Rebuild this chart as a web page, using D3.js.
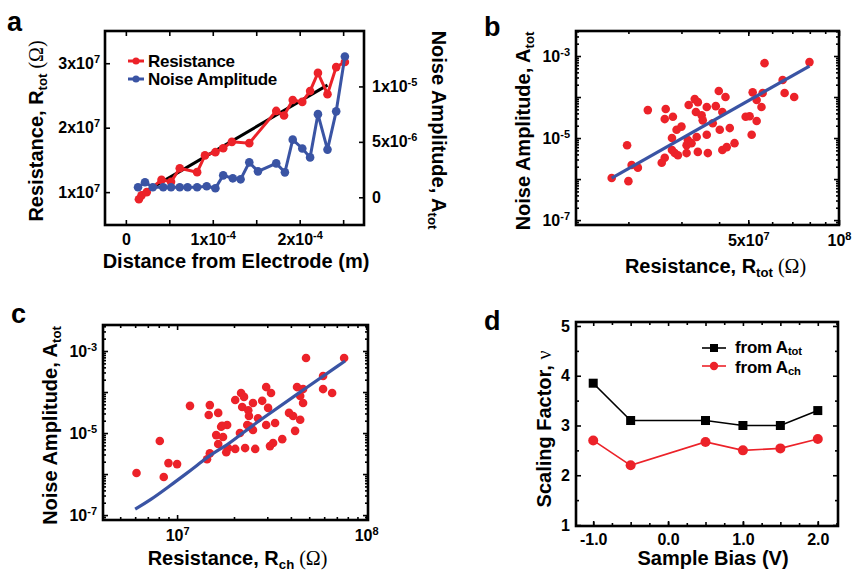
<!DOCTYPE html>
<html>
<head>
<meta charset="utf-8">
<script src="https://cdn.jsdelivr.net/npm/d3@7"></script>
<style>
body { margin: 0; background: #fff; }
text { font-family: "Liberation Sans", Arial, sans-serif; font-weight: bold; fill: #000; }
</style>
</head>
<body>
<svg id="fig" width="854" height="572"></svg>
<script>
// ---- panel a: resistance / noise vs distance ----
const distRes   = [1.5e-5, 1.8e-5, 2.4e-5, 4.1e-5, 5.2e-5, 6.2e-5, 8.2e-5, 9.1e-5, 1.03e-4, 1.12e-4, 1.22e-4, 1.42e-4, 1.73e-4, 1.82e-4, 1.92e-4, 2.03e-4, 2.12e-4, 2.21e-4, 2.32e-4, 2.42e-4, 2.52e-4];
const resTot    = [0.89e7, 0.95e7, 1.0e7, 1.19e7, 1.16e7, 1.37e7, 1.31e7, 1.57e7, 1.62e7, 1.68e7, 1.78e7, 1.76e7, 2.26e7, 2.19e7, 2.43e7, 2.40e7, 2.57e7, 2.85e7, 2.52e7, 2.94e7, 3.02e7];
const distNoise = [1.4e-5, 2.2e-5, 3.1e-5, 4.3e-5, 5.2e-5, 6.2e-5, 7.1e-5, 8.2e-5, 9.3e-5, 1.03e-4, 1.12e-4, 1.23e-4, 1.32e-4, 1.42e-4, 1.52e-4, 1.73e-4, 1.83e-4, 1.92e-4, 2.03e-4, 2.12e-4, 2.21e-4, 2.32e-4, 2.42e-4, 2.52e-4];
const noiseAmp  = [0.9e-6, 1.35e-6, 0.9e-6, 0.9e-6, 0.9e-6, 0.9e-6, 0.9e-6, 0.9e-6, 0.99e-6, 0.81e-6, 1.98e-6, 1.71e-6, 1.62e-6, 3.15e-6, 2.34e-6, 3.06e-6, 2.25e-6, 5.2e-6, 4.4e-6, 3.6e-6, 7.5e-6, 4.3e-6, 7.75e-6, 12.7e-6];
const fitDistA  = [1.5e-5, 2.32e-4];
const fitResA   = [0.95e7, 2.66e7];
const legendA   = ["Resistance", "Noise Amplitude"];

// ---- panel b: A_tot vs R_tot ----
const rTot = [1.76e7, 1.98e7, 2.05e7, 2.15e7, 2.0e7, 2.32e7, 2.58e7, 2.64e7, 2.66e7, 2.64e7, 2.81e7, 2.79e7, 2.79e7, 2.85e7, 2.92e7, 2.89e7, 3.0e7, 3.12e7, 3.12e7, 3.15e7, 3.17e7, 3.24e7, 3.32e7, 3.4e7, 3.35e7, 3.37e7, 3.4e7, 3.5e7, 3.53e7, 3.64e7, 3.64e7, 3.67e7, 3.81e7, 3.9e7, 3.99e7, 4.2e7, 4.02e7, 4.1e7, 4.1e7, 4.24e7, 4.34e7, 4.5e7, 4.9e7, 5.05e7, 5.33e7, 5.13e7, 5.17e7, 5.33e7, 5.53e7, 5.58e7, 5.66e7, 6.5e7, 6.6e7, 7.1e7, 7.98e7];
const aTotB = [1.06e-6, 6.7e-6, 2.2e-6, 1.9e-6, 8.9e-7, 4.8e-5, 2.5e-6, 3.3e-6, 5.1e-5, 2.9e-5, 3.3e-5, 1.0e-5, 5.1e-6, 4.3e-6, 3.8e-6, 1.6e-5, 1.9e-5, 4.3e-6, 6.7e-6, 8.9e-6, 6.4e-5, 7.5e-6, 8.9e-5, 7.5e-5, 4.3e-5, 1.06e-5, 4.6e-6, 3.6e-5, 2.7e-5, 5.7e-5, 1.2e-5, 4.3e-6, 2.3e-5, 6.0e-5, 1.4e-4, 1.0e-4, 1.6e-5, 4.3e-5, 5.1e-6, 6.0e-6, 1.75e-5, 7.5e-6, 3.3e-5, 3.4e-5, 2.6e-5, 1.2e-5, 1.3e-4, 8.5e-5, 5.7e-5, 1.25e-4, 6.7e-4, 2.6e-4, 1.25e-4, 1.0e-4, 7.1e-4];
const fitRB = [1.76e7, 7.98e7];
const fitAB = [1.05e-6, 5.7e-4];

// ---- panel c: A_tot vs R_ch ----
const rCh = [6.1e6, 8.1e6, 9.0e6, 1.0e7, 8.5e6, 1.44e7, 1.49e7, 1.61e7, 1.75e7, 1.65e7, 1.71e7, 1.84e7, 1.86e7, 1.82e7, 2.03e7, 2.29e7, 2.59e7, 2.15e7, 2.35e7, 2.52e7, 2.96e7, 3.3e7, 3.1e7, 3.22e7, 3.6e7, 4.21e7, 4.48e7, 1.17e7, 1.49e7, 1.47e7, 1.65e7, 4.81e7, 7.65e7, 5.92e7, 5.92e7, 6.61e7, 4.31e7, 4.64e7, 4.48e7, 4.64e7, 2.96e7, 3.14e7, 2.18e7, 2.26e7, 2.03e7, 2.82e7, 2.52e7, 2.21e7, 2.38e7, 2.4e7, 3.03e7, 3.91e7, 4.11e7, 1.73e7, 2.68e7, 2.43e7];
const aTotC = [1.06e-6, 6.4e-6, 1.85e-6, 1.75e-6, 8.5e-7, 2.3e-6, 3.2e-6, 8.9e-6, 8.0e-6, 5.4e-6, 1.43e-5, 1.57e-5, 4.3e-6, 3.4e-6, 4.1e-6, 4.3e-6, 4.1e-6, 1.0e-5, 1.57e-5, 1.19e-5, 1.57e-5, 1.75e-5, 4.8e-6, 5.7e-6, 7.1e-6, 1.13e-5, 2.1e-5, 4.6e-5, 4.8e-5, 2.75e-5, 3.1e-5, 6.75e-4, 6.75e-4, 2.45e-4, 1.18e-4, 9.5e-5, 1.32e-4, 1.18e-4, 8.0e-5, 5.4e-5, 1.32e-4, 9.5e-5, 9.5e-5, 7.6e-5, 6.4e-5, 6.1e-5, 5.4e-5, 4.3e-5, 3.6e-5, 2.6e-5, 4.1e-5, 3.1e-5, 2.6e-5, 1.5e-5, 2.3e-5, 1.43e-5];
const fitRC = [6.0e6, 7.2e6, 8.85e6, 1.13e7, 1.32e7, 1.55e7, 1.84e7, 2.15e7, 2.65e7, 4.48e7, 7.74e7];
const fitAC = [1.4e-7, 2.3e-7, 4.6e-7, 1.06e-6, 1.85e-6, 3.25e-6, 5.1e-6, 8.9e-6, 1.85e-5, 1.0e-4, 5.7e-4];

// ---- panel d: scaling factor vs bias ----
const bias    = [-1.0, -0.5, 0.5, 1.0, 1.5, 2.0];
const nuTot   = [3.85, 3.1, 3.1, 3.0, 3.0, 3.3];
const nuCh    = [2.7, 2.2, 2.67, 2.5, 2.54, 2.73];

const RED = "#ec2229", BLUE = "#3a54a4";
const svg = d3.select("#fig");
svg.append("rect").attr("width", 854).attr("height", 572).attr("fill", "#fff");

// text with sub/superscripts; parts = [[string, kind]]
function richText(parent, parts, size, subShift) {
    var t = parent.append("text").attr("font-size", size);
    var shift = 0;
    parts.forEach(function(p) {
        var ts = t.append("tspan").text(p[0]);
        var target = 0;
        if (p[1] == "sub") { ts.attr("font-size", size * 0.66); target = size * (subShift || 0.2); }
        if (p[1] == "sup") { ts.attr("font-size", size * 0.68); target = -size * 0.42; }
        if (p[1] == "serif") { ts.attr("font-family", "'Liberation Serif', serif").attr("font-weight", "normal"); }
        if (target != shift) { ts.attr("dy", target - shift); shift = target; }
    });
    return t;
}

function supLabels(g, fn) {
    g.selectAll(".tick text").each(function(d) {
        var p = fn(d);
        var t = d3.select(this).text(null);
        t.append("tspan").text(p[0]);
        if (p[1]) t.append("tspan").attr("dy", -6).attr("font-size", 11).text(p[1]);
    });
}

function drawAxis(g, ax, labels) {
    g.call(ax);
    g.attr("font-family", null).attr("font-size", 16);
    g.select(".domain").remove();
    g.selectAll(".tick line").attr("stroke", "#000").attr("stroke-width", 1.6);
    if (!labels) g.selectAll(".tick text").remove();
    return g;
}

function frame(x0, x1, y0, y1) {
    svg.append("rect").attr("x", x0).attr("y", y0).attr("width", x1 - x0).attr("height", y1 - y0)
        .attr("fill", "none").attr("stroke", "#000").attr("stroke-width", 2.6);
}

function logMinor(lo, hi) {
    var out = [];
    for (var e = -9; e <= 9; e++) {
        for (var m = 2; m <= 9; m++) {
            var v = m * Math.pow(10, e);
            if (v > lo && v < hi) out.push(v);
        }
    }
    return out;
}

function panelLetter(x, y, s) {
    svg.append("text").attr("x", x).attr("y", y).attr("font-size", 27).text(s);
}

// ================= panel a =================
(function() {
    var x = d3.scaleLinear().domain([-0.24e-4, 2.74e-4]).range([105, 364]);
    var yl = d3.scaleLinear().domain([0.49e7, 3.5e7]).range([225, 31]);
    var yr = d3.scaleLinear().domain([-2.5e-6, 1.5e-5]).range([225, 31]);
    var xt = [0, 0.5e-4, 1e-4, 1.5e-4, 2e-4, 2.5e-4];

    var gb = drawAxis(svg.append("g").attr("transform", "translate(0,225)"),
        d3.axisBottom(x).tickValues(xt).tickSize(-5).tickPadding(9), true);
    supLabels(gb, function(d) {
        if (d == 0) return ["0"];
        if (Math.abs(d - 1e-4) < 1e-9) return ["1x10", "-4"];
        if (Math.abs(d - 2e-4) < 1e-9) return ["2x10", "-4"];
        return [""];
    });
    drawAxis(svg.append("g").attr("transform", "translate(0,31)"),
        d3.axisTop(x).tickValues(xt).tickSize(-5), false);
    var gl = drawAxis(svg.append("g").attr("transform", "translate(105,0)"),
        d3.axisLeft(yl).tickValues([1e7, 2e7, 3e7]).tickSize(-5).tickPadding(5), true);
    supLabels(gl, function(d) { return [Math.round(d / 1e7) + "x10", "7"]; });
    var gr = drawAxis(svg.append("g").attr("transform", "translate(364,0)"),
        d3.axisRight(yr).tickValues([0, 5e-6, 1e-5]).tickSize(-5).tickPadding(8), true);
    supLabels(gr, function(d) {
        if (d == 0) return ["0"];
        if (d < 6e-6) return ["5x10", "-6"];
        return ["1x10", "-5"];
    });

    var plot = svg.append("g");
    plot.append("line")
        .attr("x1", x(fitDistA[0])).attr("y1", yl(fitResA[0]))
        .attr("x2", x(fitDistA[1])).attr("y2", yl(fitResA[1]))
        .attr("stroke", "#000").attr("stroke-width", 3);

    var resPts = distRes.map(function(d, i) { return [d, resTot[i]]; });
    plot.append("path").datum(resPts)
        .attr("d", d3.line().x(function(d) { return x(d[0]); }).y(function(d) { return yl(d[1]); }))
        .attr("fill", "none").attr("stroke", RED).attr("stroke-width", 3);
    plot.selectAll(".rdot").data(resPts).enter().append("circle")
        .attr("cx", function(d) { return x(d[0]); })
        .attr("cy", function(d) { return yl(d[1]); })
        .attr("r", 4.3).attr("fill", RED);

    var noisePts = distNoise.map(function(d, i) { return [d, noiseAmp[i]]; });
    plot.append("path").datum(noisePts)
        .attr("d", d3.line().x(function(d) { return x(d[0]); }).y(function(d) { return yr(d[1]); }))
        .attr("fill", "none").attr("stroke", BLUE).attr("stroke-width", 3);
    plot.selectAll(".bdot").data(noisePts).enter().append("circle")
        .attr("cx", function(d) { return x(d[0]); })
        .attr("cy", function(d) { return yr(d[1]); })
        .attr("r", 4.3).attr("fill", BLUE);

    frame(105, 364, 31, 225);

    // legend
    [RED, BLUE].forEach(function(c, i) {
        var ly = 61 + i * 18;
        svg.append("line").attr("x1", 128).attr("x2", 144).attr("y1", ly).attr("y2", ly)
            .attr("stroke", c).attr("stroke-width", 3);
        svg.append("circle").attr("cx", 136).attr("cy", ly).attr("r", 3.5).attr("fill", c);
        svg.append("text").attr("x", 148).attr("y", ly + 6).attr("font-size", 17)
            .attr("letter-spacing", -0.3).text(legendA[i]);
    });

    richText(svg.append("g").attr("transform", "translate(43,131) rotate(-90)"),
        [["Resistance, R"], ["tot", "sub"], [" (Ω)", "serif"]], 20).attr("text-anchor", "middle");
    richText(svg.append("g").attr("transform", "translate(432,130) rotate(90)"),
        [["Noise Amplitude, A"], ["tot", "sub"]], 20).attr("text-anchor", "middle");
    richText(svg.append("g").attr("transform", "translate(236,268)"),
        [["Distance from Electrode (m)"]], 20).attr("text-anchor", "middle");
    panelLetter(7, 31, "a");
})();

// ================= log-log scatter panels =================
function logPanel(opt) {
    var x = d3.scaleLog().domain(opt.xd).range([opt.x0, opt.x1]);
    var y = d3.scaleLog().domain(opt.yd).range([opt.y1, opt.y0]);
    var yMaj = [1e-7, 1e-6, 1e-5, 1e-4, 1e-3];
    var yMin = logMinor(opt.yd[0], opt.yd[1]);
    var xMin = logMinor(opt.xd[0], opt.xd[1]);

    var gl = drawAxis(svg.append("g").attr("transform", "translate(" + opt.x0 + ",0)"),
        d3.axisLeft(y).tickValues(yMaj).tickSize(-5).tickPadding(6), true);
    supLabels(gl, function(d) {
        var e = Math.round(Math.log10(d));
        return (e % 2 != 0) ? ["10", String(e)] : [""];
    });
    drawAxis(svg.append("g").attr("transform", "translate(" + opt.x0 + ",0)"),
        d3.axisLeft(y).tickValues(yMin).tickSize(-3), false);
    drawAxis(svg.append("g").attr("transform", "translate(" + opt.x1 + ",0)"),
        d3.axisRight(y).tickValues(yMaj).tickSize(-5), false);
    drawAxis(svg.append("g").attr("transform", "translate(" + opt.x1 + ",0)"),
        d3.axisRight(y).tickValues(yMin).tickSize(-3), false);

    var gb = drawAxis(svg.append("g").attr("transform", "translate(0," + opt.y1 + ")"),
        d3.axisBottom(x).tickValues(opt.xLab).tickSize(-5).tickPadding(10), true);
    supLabels(gb, opt.xFmt);
    drawAxis(svg.append("g").attr("transform", "translate(0," + opt.y1 + ")"),
        d3.axisBottom(x).tickValues(xMin).tickSize(-3), false);
    drawAxis(svg.append("g").attr("transform", "translate(0," + opt.y0 + ")"),
        d3.axisTop(x).tickValues(opt.xLab).tickSize(-5), false);
    drawAxis(svg.append("g").attr("transform", "translate(0," + opt.y0 + ")"),
        d3.axisTop(x).tickValues(xMin).tickSize(-3), false);

    svg.append("g").selectAll("circle").data(opt.rx).enter().append("circle")
        .attr("cx", function(d) { return x(d); })
        .attr("cy", function(d, i) { return y(opt.ay[i]); })
        .attr("r", 4.3).attr("fill", RED);

    var fit = opt.fx.map(function(d, i) { return [d, opt.fy[i]]; });
    svg.append("path").datum(fit)
        .attr("d", d3.line().curve(d3.curveBasis)
            .x(function(d) { return x(d[0]); }).y(function(d) { return y(d[1]); }))
        .attr("fill", "none").attr("stroke", BLUE).attr("stroke-width", 3.2);

    frame(opt.x0, opt.x1, opt.y0, opt.y1);
    var cy = (opt.y0 + opt.y1) / 2;
    richText(svg.append("g").attr("transform", "translate(" + (opt.x0 - 46) + "," + (cy + 3) + ") rotate(-90)"),
        [["Noise Amplitude, A"], ["tot", "sub"]], 20).attr("text-anchor", "middle");
    richText(svg.append("g").attr("transform", "translate(" + ((opt.x0 + opt.x1) / 2 + opt.tdx) + "," + (opt.y1 + opt.tdy) + ")"),
        [["Resistance, R"], [opt.sub, "sub"], [" (Ω)", "serif"]], 20).attr("text-anchor", "middle");
}

logPanel({
    x0: 576, x1: 839, y0: 31, y1: 225,
    xd: [1.34e7, 1e8], yd: [Math.pow(10, -7.12), Math.pow(10, -2.39)],
    xLab: [5e7, 1e8],
    xFmt: function(d) { return d < 9e7 ? ["5x10", "7"] : ["10", "8"]; },
    rx: rTot, ay: aTotB, fx: fitRB, fy: fitAB, sub: "tot", tdx: 8, tdy: 48
});
panelLetter(484, 36, "b");

logPanel({
    x0: 103, x1: 368, y0: 325, y1: 520,
    xd: [Math.pow(10, 6.608), Math.pow(10, 8.01)], yd: [Math.pow(10, -7.12), Math.pow(10, -2.366)],
    xLab: [1e7, 1e8],
    xFmt: function(d) { return d < 5e7 ? ["10", "7"] : ["10", "8"]; },
    rx: rCh, ay: aTotC, fx: fitRC, fy: fitAC, sub: "ch", tdx: 2, tdy: 45
});
panelLetter(11, 323, "c");

// ================= panel d =================
(function() {
    var x = d3.scaleLinear().domain([-1.23, 2.27]).range([576, 838]);
    var y = d3.scaleLinear().domain([0.98, 5.08]).range([526, 322]);
    var xMaj = [-1, 0, 1, 2];
    var xMin = [-1, -0.5, 0, 0.5, 1, 1.5, 2];
    var xMin2 = [-1.25, -0.75, -0.25, 0.25, 0.75, 1.25, 1.75, 2.25].filter(function(v) { return v > -1.23 && v < 2.27; });
    var yMaj = [1, 2, 3, 4, 5];
    var yMin = [1.5, 2.5, 3.5, 4.5];

    var gb = drawAxis(svg.append("g").attr("transform", "translate(0,526)"),
        d3.axisBottom(x).tickValues(xMaj).tickSize(-5).tickPadding(8), true);
    gb.selectAll(".tick text").text(function(d) { return d3.format(".1f")(d).replace("−", "-"); });
    drawAxis(svg.append("g").attr("transform", "translate(0,526)"),
        d3.axisBottom(x).tickValues(xMin).tickSize(-4), false);
    drawAxis(svg.append("g").attr("transform", "translate(0,526)"),
        d3.axisBottom(x).tickValues(xMin2).tickSize(-3), false);
    drawAxis(svg.append("g").attr("transform", "translate(0,322)"),
        d3.axisTop(x).tickValues(xMin).tickSize(-4), false);
    drawAxis(svg.append("g").attr("transform", "translate(0,322)"),
        d3.axisTop(x).tickValues(xMin2).tickSize(-3), false);
    drawAxis(svg.append("g").attr("transform", "translate(576,0)"),
        d3.axisLeft(y).tickValues(yMaj).tickSize(-5).tickPadding(6).tickFormat(d3.format("d")), true);
    drawAxis(svg.append("g").attr("transform", "translate(576,0)"),
        d3.axisLeft(y).tickValues(yMin).tickSize(-3), false);
    drawAxis(svg.append("g").attr("transform", "translate(838,0)"),
        d3.axisRight(y).tickValues(yMaj).tickSize(-5), false);
    drawAxis(svg.append("g").attr("transform", "translate(838,0)"),
        d3.axisRight(y).tickValues(yMin).tickSize(-3), false);

    var line = d3.line().x(function(d) { return x(d[0]); }).y(function(d) { return y(d[1]); });
    var tot = bias.map(function(b, i) { return [b, nuTot[i]]; });
    var ch = bias.map(function(b, i) { return [b, nuCh[i]]; });
    svg.append("path").datum(tot).attr("d", line).attr("fill", "none").attr("stroke", "#000").attr("stroke-width", 1.6);
    svg.selectAll(".sq").data(tot).enter().append("rect")
        .attr("x", function(d) { return x(d[0]) - 4.5; })
        .attr("y", function(d) { return y(d[1]) - 4.5; })
        .attr("width", 9).attr("height", 9).attr("fill", "#000");
    svg.append("path").datum(ch).attr("d", line).attr("fill", "none").attr("stroke", RED).attr("stroke-width", 1.6);
    svg.selectAll(".cd").data(ch).enter().append("circle")
        .attr("cx", function(d) { return x(d[0]); })
        .attr("cy", function(d) { return y(d[1]); })
        .attr("r", 5).attr("fill", RED);

    frame(576, 838, 322, 526);

    // legend
    svg.append("line").attr("x1", 702).attr("x2", 726).attr("y1", 348).attr("y2", 348).attr("stroke", "#000").attr("stroke-width", 1.6);
    svg.append("rect").attr("x", 710).attr("y", 344).attr("width", 8).attr("height", 8).attr("fill", "#000");
    svg.append("line").attr("x1", 702).attr("x2", 726).attr("y1", 366).attr("y2", 366).attr("stroke", RED).attr("stroke-width", 1.6);
    svg.append("circle").attr("cx", 714).attr("cy", 366).attr("r", 4.2).attr("fill", RED);
    richText(svg.append("g").attr("transform", "translate(735,353)"), [["from A"], ["tot", "sub"]], 17, 0.12).attr("letter-spacing", -0.2);
    richText(svg.append("g").attr("transform", "translate(735,373)"), [["from A"], ["ch", "sub"]], 17, 0.12).attr("letter-spacing", -0.2);

    richText(svg.append("g").attr("transform", "translate(551,429) rotate(-90)"),
        [["Scaling Factor, "], ["ν", "serif"]], 20).attr("text-anchor", "middle");
    richText(svg.append("g").attr("transform", "translate(713,565)"),
        [["Sample Bias (V)"]], 20).attr("text-anchor", "middle");
    panelLetter(484, 330, "d");
})();
</script>
</body>
</html>
